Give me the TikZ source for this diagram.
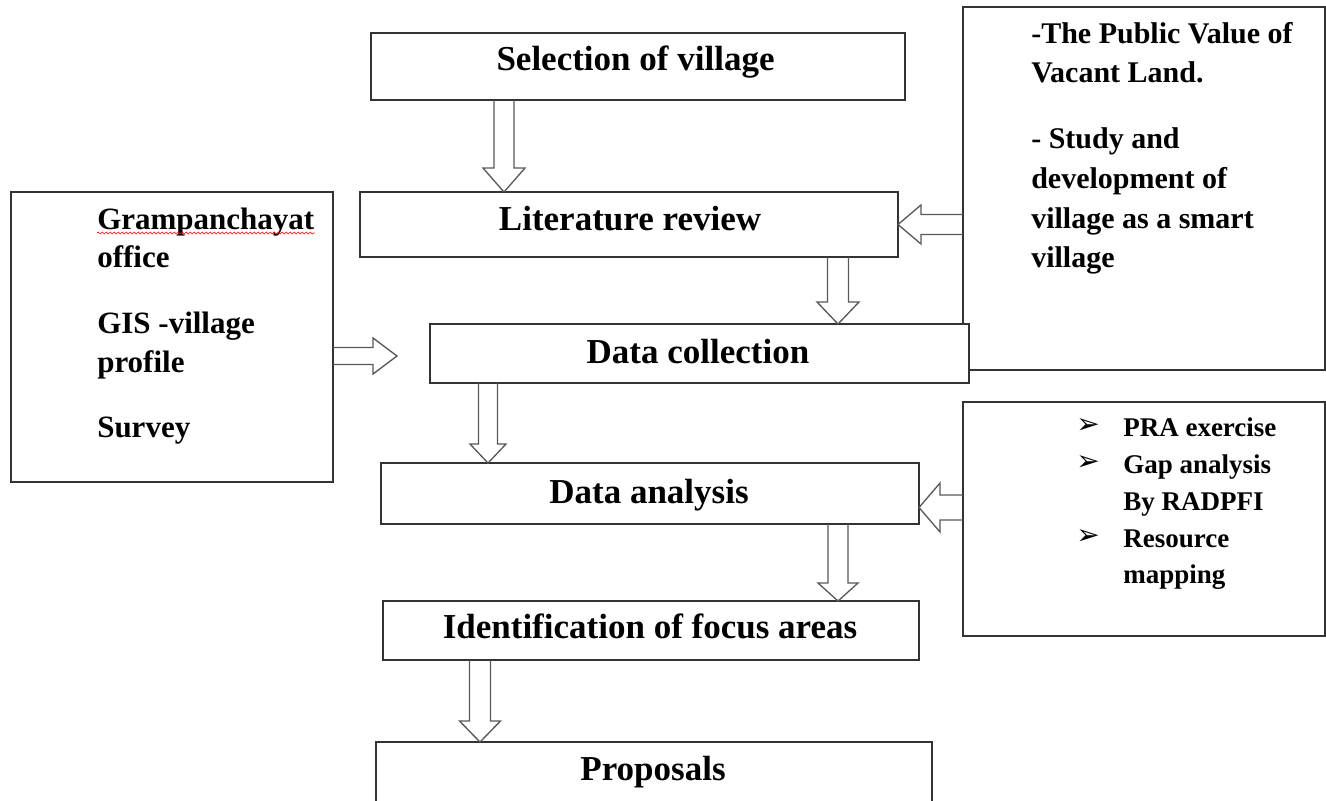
\documentclass[tikz,border=0pt]{standalone}
\usepackage{fontspec}
\setmainfont{Liberation Serif}
\newfontfamily\symfont{DejaVu Sans}
\usetikzlibrary{calc,fit,decorations.pathmorphing}
\newcommand\blockv[5]{\draw[barrow] ($(#1)+({-1*(#3)},0)$) -- ($(#2)+({-1*(#3)},{-1*(#5)})$) -- ($(#2)+({-1*(#4)},{-1*(#5)})$) -- (#2) -- ($(#2)+(#4,{-1*(#5)})$) -- ($(#2)+(#3,{-1*(#5)})$) -- ($(#1)+(#3,0)$);}
\newcommand\blockh[5]{\draw[barrow] ($(#1)+(0,{-1*(#3)})$) -- ($(#2)+({-1*(#5)},{-1*(#3)})$) -- ($(#2)+({-1*(#5)},{-1*(#4)})$) -- (#2) -- ($(#2)+({-1*(#5)},#4)$) -- ($(#2)+({-1*(#5)},#3)$) -- ($(#1)+(0,#3)$);}
\begin{document}
\begin{tikzpicture}[x=0.75pt,y=-0.75pt,
 box/.style={draw=black!80, line width=1.2pt, fill=white, inner sep=0pt, outer sep=0pt},
 barrow/.style={draw=black!65, line width=1pt, line join=miter},
 mtxt/.style={font=\bfseries\fontsize{26.25}{30}\selectfont, inner sep=0pt, anchor=base},
 ltxt/.style={font=\bfseries\fontsize{23.25}{28}\selectfont, inner sep=0pt, anchor=base west},
 ronetxt/.style={font=\bfseries\fontsize{22.5}{27}\selectfont, inner sep=0pt, anchor=base west},
 rtwotxt/.style={font=\bfseries\fontsize{20.25}{24}\selectfont, inner sep=0pt, anchor=base west},
 bul/.style={font=\symfont\fontsize{21}{24}\selectfont, inner sep=0pt, anchor=base west},
]
\useasboundingbox (0,0) rectangle (1326,800);
\clip (0,0) rectangle (1326,800);
\fill[white] (0,0) rectangle (1326,800);

% boxes
\node[box, fit={(963,7) (1325,370)}] (rb1) {};
\node[box, fit={(963,402) (1325,636)}] (rb2) {};
\node[box, fit={(11,192) (333,482)}] (src) {};
\node[box, fit={(371,33) (905,100)}] (sel) {};
\node[box, fit={(360,192) (898,257)}] (lit) {};
\node[box, fit={(430,324) (969,383)}] (dc) {};
\node[box, fit={(381,463) (919,524)}] (da) {};
\node[box, fit={(383,601) (919,660)}] (ifa) {};
\node[box, fit={(376,742) (932,840)}] (prop) {};

% arrow anchor coordinates
\coordinate (a1s) at ($(sel.south west)+(133,0)$);
\coordinate (a1t) at (a1s |- lit.north);
\coordinate (a2s) at ($(lit.south west)+(478,0)$);
\coordinate (a2t) at (a2s |- dc.north);
\coordinate (a3s) at ($(dc.south west)+(58,0)$);
\coordinate (a3t) at (a3s |- da.north);
\coordinate (a4s) at ($(da.south west)+(457,0)$);
\coordinate (a4t) at (a4s |- ifa.north);
\coordinate (a5s) at ($(ifa.south west)+(97,0)$);
\coordinate (a5t) at (a5s |- prop.north);
\coordinate (r1t) at (lit.east);
\coordinate (r1s) at (rb1.west |- r1t);
\coordinate (r2t) at ($(da.east)+(0,14)$);
\coordinate (r2s) at (rb2.west |- r2t);
\coordinate (lt) at ($(dc.west)+(-33,2.5)$);
\coordinate (ls) at (src.east |- lt);

% block arrows
\blockv{a1s}{a1t}{10}{21}{24}
\blockv{a2s}{a2t}{10.5}{21}{22}
\blockv{a3s}{a3t}{9.5}{18}{19}
\blockv{a4s}{a4t}{10}{20}{18}
\blockv{a5s}{a5t}{10.5}{20.5}{21}
\blockh{r1s}{r1t}{10}{19.5}{-23}
\blockh{r2s}{r2t}{12.5}{24.5}{-21}
\blockh{ls}{lt}{8.5}{18}{24}

% main texts
\node[mtxt] (selT) at (635.5,70) {Selection of village};
\node[mtxt] (litT) at (630,230) {Literature review};
\node[mtxt] (dcT) at (698,363) {Data collection};
\node[mtxt] (daT) at (649,503) {Data analysis};
\node[mtxt] (ifaT) at (650,638) {Identification of focus areas};
\node[mtxt] (propT) at (653,780) {Proposals};

% left box texts
\node[ltxt] (l1) at (97,229) {Grampanchayat};
\draw[red, line width=0.45pt, decorate, decoration={snake, amplitude=0.7pt, segment length=3pt}] ($(l1.base west)+(0,4)$) -- ($(l1.base east)+(0,4)$);
\node[ltxt] (l2) at (97,267) {office};
\node[ltxt] (l3) at (97,333) {GIS -village};
\node[ltxt] (l4) at (97,372) {profile};
\node[ltxt] (l5) at (97,437) {Survey};

% right box 1 texts
\node[ronetxt] (p1) at (1031,43) {-The Public Value of};
\node[ronetxt] (p2) at (1031,82) {Vacant Land.};
\node[ronetxt] (p3) at (1031,148) {- Study and};
\node[ronetxt] (p4) at (1031,188) {development of};
\node[ronetxt] (p5) at (1031,228) {village as a smart};
\node[ronetxt] (p6) at (1031,267) {village};

% right box 2 texts
\node[bul] (b1) at (1076,433) {➢};
\node[bul] (b2) at (1076,470) {➢};
\node[bul] (b3) at (1076,544) {➢};
\node[rtwotxt] (q1) at (1123,436) {PRA exercise};
\node[rtwotxt] (q2) at (1123,473) {Gap analysis};
\node[rtwotxt] (q3) at (1123,510) {By RADPFI};
\node[rtwotxt] (q4) at (1123,547) {Resource};
\node[rtwotxt] (q5) at (1123,583) {mapping};
\end{tikzpicture}
\end{document}
